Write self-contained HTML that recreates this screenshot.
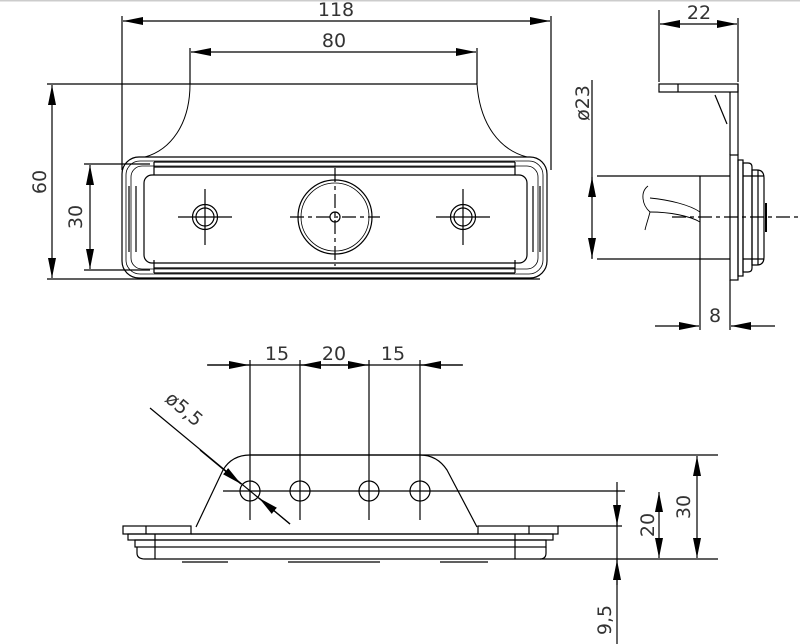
<!DOCTYPE html>
<html><head><meta charset="utf-8"><style>
html,body{margin:0;padding:0;background:#fff;}
svg{display:block}
text{font-family:"DejaVu Sans","Liberation Sans",sans-serif;fill:#333;font-size:19px}
</style></head><body>
<svg width="800" height="644" viewBox="0 0 800 644" xmlns="http://www.w3.org/2000/svg">
<defs>
<marker id="a" viewBox="0 0 20 8" refX="20" refY="4" markerWidth="20" markerHeight="8" markerUnits="userSpaceOnUse" orient="auto-start-reverse"><path d="M0,0L20,4L0,8Z" fill="#000"/></marker>
</defs>
<rect x="0" y="0" width="800" height="1.5" fill="#ccc"/>
<g stroke="#000" stroke-width="1.2" fill="none">
<line x1="122" y1="16" x2="122" y2="170"/><line x1="551" y1="16" x2="551" y2="170"/>
<line x1="123" y1="21" x2="550" y2="21" marker-start="url(#a)" marker-end="url(#a)"/>
<line x1="190" y1="48" x2="190" y2="84"/><line x1="477" y1="48" x2="477" y2="84"/>
<line x1="191" y1="52" x2="476" y2="52" marker-start="url(#a)" marker-end="url(#a)"/>
<line x1="47" y1="84" x2="477" y2="84"/><line x1="47" y1="279" x2="540" y2="279"/>
<line x1="52" y1="85" x2="52" y2="278" marker-start="url(#a)" marker-end="url(#a)"/>
<line x1="84" y1="164" x2="150" y2="164"/><line x1="84" y1="270" x2="150" y2="270"/>
<line x1="90" y1="165" x2="90" y2="269" marker-start="url(#a)" marker-end="url(#a)"/>
<path d="M190,84 C190,125 170,150 145,157" stroke-width="1"/>
<path d="M477,84 C480,125 500,150 527,157" stroke-width="1"/>
<rect x="122" y="157" width="425" height="121" rx="17"/>
<rect x="126" y="161" width="417" height="113" rx="14" stroke-width="0.8"/>
<rect x="131" y="166" width="407" height="103" rx="11" stroke-width="0.8"/>
<rect x="144" y="175" width="383" height="88" rx="8"/>
<line x1="154" y1="162" x2="515" y2="162"/><line x1="154" y1="167" x2="515" y2="167"/>
<line x1="154" y1="268" x2="515" y2="268"/><line x1="154" y1="273" x2="515" y2="273"/>
<line x1="154" y1="162" x2="154" y2="175"/><line x1="515" y1="162" x2="515" y2="175"/>
<line x1="154" y1="260" x2="154" y2="273"/><line x1="515" y1="260" x2="515" y2="273"/>
<line x1="129" y1="186" x2="129" y2="252"/><line x1="136" y1="186" x2="136" y2="252"/>
<line x1="540" y1="186" x2="540" y2="252"/><line x1="533" y1="186" x2="533" y2="252"/>
<circle cx="205" cy="217" r="12.5"/><circle cx="205" cy="217" r="9"/>
<line x1="178" y1="217" x2="232" y2="217"/><line x1="205" y1="189" x2="205" y2="245"/>
<circle cx="463" cy="217" r="12.5"/><circle cx="463" cy="217" r="9"/>
<line x1="436" y1="217" x2="490" y2="217"/><line x1="463" y1="189" x2="463" y2="245"/>
<circle cx="335" cy="217" r="37"/><circle cx="335" cy="217" r="34" stroke-width="0.8"/><circle cx="335" cy="217" r="5"/>
<line x1="290" y1="217" x2="380" y2="217" stroke-dasharray="14,4,4,4"/>
<line x1="335" y1="168" x2="335" y2="266" stroke-dasharray="14,4,4,4"/>
<line x1="659" y1="10" x2="659" y2="82"/><line x1="738" y1="18" x2="738" y2="82"/>
<line x1="660" y1="24" x2="737" y2="24" marker-start="url(#a)" marker-end="url(#a)"/>
<rect x="659" y="84" width="79" height="8"/><line x1="678" y1="84" x2="678" y2="92"/>
<line x1="730" y1="92" x2="730" y2="155"/><line x1="738" y1="84" x2="738" y2="155"/>
<path d="M715,95 L727,124"/>
<rect x="730" y="155" width="8" height="125"/>
<rect x="738" y="160" width="5" height="116"/>
<path d="M743,163 H748 Q752,163 752,167 V268 Q752,272 748,272 H743Z"/>
<path d="M752,170 H757 Q764,170 764,178 V257 Q764,265 757,265 H752Z"/>
<line x1="743" y1="176" x2="764" y2="176"/><line x1="743" y1="259" x2="764" y2="259"/>
<line x1="758" y1="170" x2="758" y2="265"/>
<line x1="766" y1="203" x2="766" y2="232" stroke-width="2"/>
<line x1="597" y1="176" x2="730" y2="176"/><line x1="597" y1="259" x2="730" y2="259"/>
<line x1="700" y1="176" x2="700" y2="330"/><line x1="730" y1="280" x2="730" y2="330"/>
<line x1="672" y1="217" x2="800" y2="217" stroke-dasharray="14,4,4,4"/>
<path d="M648,186 C640,192 642,205 650,212 C648,220 646,225 645,230" stroke-width="0.9"/>
<path d="M650,198 C670,200 690,205 700,212" stroke-width="0.9"/>
<path d="M650,212 C670,212 690,216 700,222" stroke-width="0.9"/>
<line x1="592" y1="80" x2="592" y2="259"/>
<line x1="592" y1="198" x2="592" y2="177" marker-end="url(#a)"/>
<line x1="592" y1="238" x2="592" y2="258" marker-end="url(#a)"/>
<line x1="655" y1="326" x2="699" y2="326" marker-end="url(#a)"/>
<line x1="775" y1="326" x2="731" y2="326" marker-end="url(#a)"/>
<line x1="207" y1="365" x2="463" y2="365"/>
<line x1="208" y1="365" x2="249" y2="365" marker-end="url(#a)"/>
<line x1="340" y1="365" x2="301" y2="365" marker-end="url(#a)"/>
<line x1="330" y1="365" x2="368" y2="365" marker-end="url(#a)"/>
<line x1="462" y1="365" x2="421" y2="365" marker-end="url(#a)"/>
<line x1="250" y1="360" x2="250" y2="520"/><line x1="300" y1="360" x2="300" y2="520"/>
<line x1="369" y1="360" x2="369" y2="520"/><line x1="420" y1="360" x2="420" y2="520"/>
<path d="M196,527 L223,470 Q232,455 250,455 H420 Q437,455 447,470 L477,527"/>
<line x1="250" y1="455" x2="718" y2="455"/>
<line x1="223" y1="491" x2="625" y2="491"/>
<circle cx="250" cy="491" r="10"/><circle cx="300" cy="491" r="10"/><circle cx="369" cy="491" r="10"/><circle cx="420" cy="491" r="10"/>
<line x1="150" y1="408" x2="290" y2="524"/>
<line x1="200" y1="450" x2="241" y2="484" marker-end="url(#a)"/>
<line x1="290" y1="524" x2="259" y2="498" marker-end="url(#a)"/>
<rect x="123" y="526" width="68" height="8"/><line x1="146" y1="526" x2="146" y2="534"/>
<rect x="478" y="526" width="80" height="8"/><line x1="529" y1="526" x2="529" y2="534"/>
<line x1="191" y1="534" x2="478" y2="534"/>
<rect x="128" y="534" width="425" height="6"/>
<rect x="135" y="540" width="411" height="7"/>
<path d="M137,547 V553 Q137,559 145,559 H540 Q546,559 546,553 V547"/>
<line x1="155" y1="534" x2="155" y2="559"/><line x1="515" y1="534" x2="515" y2="559"/>
<line x1="540" y1="559" x2="718" y2="559"/>
<line x1="182" y1="562" x2="228" y2="562"/><line x1="288" y1="562" x2="380" y2="562"/><line x1="440" y1="562" x2="488" y2="562"/>
<line x1="558" y1="526" x2="622" y2="526"/>
<line x1="697" y1="456" x2="697" y2="558" marker-start="url(#a)" marker-end="url(#a)"/>
<line x1="659" y1="492" x2="659" y2="558" marker-start="url(#a)" marker-end="url(#a)"/>
<line x1="617" y1="482" x2="617" y2="644"/>
<line x1="617" y1="500" x2="617" y2="525" marker-end="url(#a)"/>
<line x1="617" y1="585" x2="617" y2="560" marker-end="url(#a)"/>
</g>
<text x="336" y="16" text-anchor="middle">118</text>
<text x="334" y="47" text-anchor="middle">80</text>
<text x="46" y="182" text-anchor="middle" transform="rotate(-90 46 182)">60</text>
<text x="82" y="217" text-anchor="middle" transform="rotate(-90 82 217)">30</text>
<text x="699" y="19" text-anchor="middle">22</text>
<text x="589" y="103" text-anchor="middle" transform="rotate(-90 589 103)">ø23</text>
<text x="715" y="322" text-anchor="middle">8</text>
<text x="277" y="360" text-anchor="middle">15</text>
<text x="334" y="360" text-anchor="middle">20</text>
<text x="393" y="360" text-anchor="middle">15</text>
<text x="180" y="414" text-anchor="middle" transform="rotate(40 180 414)">ø5,5</text>
<text x="654" y="525" text-anchor="middle" transform="rotate(-90 654 525)">20</text>
<text x="690" y="507" text-anchor="middle" transform="rotate(-90 690 507)">30</text>
<text x="611" y="620" text-anchor="middle" transform="rotate(-90 611 620)">9,5</text>
</svg>
</body></html>
